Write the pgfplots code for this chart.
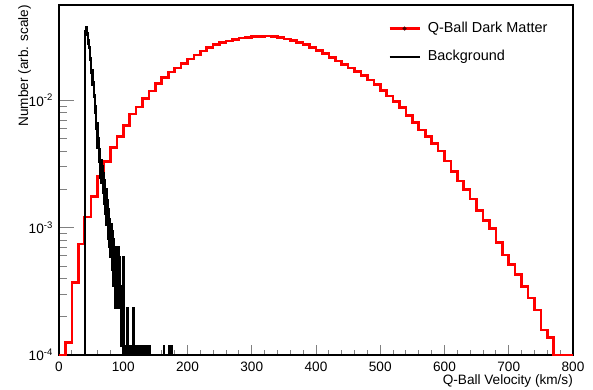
\documentclass[border=0pt]{standalone}
\usepackage{fontspec}
\setmainfont{Liberation Sans}
\usepackage{pgfplots}
\pgfplotsset{compat=1.18}
\begin{document}
\begin{tikzpicture}
\useasboundingbox (-59bp,-35bp) rectangle (534bp,355bp);
\begin{axis}[
  scale only axis,
  width=514bp, height=350bp,
  at={(0,0)}, anchor=south west,
  xmin=0, xmax=800,
  ymode=log, ymin=1e-4, ymax=0.056,
  axis line style={line width=1.1bp},
  tick align=inside,
  xtick pos=bottom, ytick pos=left,
  xtick={0,100,200,300,400,500,600,700,800},
  minor x tick num=4,
  ytick={1e-4,1e-3,1e-2},
  yticklabels={10\textsuperscript{-4},10\textsuperscript{-3},10\textsuperscript{-2}},
  xtick style={line width=0.9bp, /pgfplots/major tick length=10.5bp, /pgfplots/minor tick length=5.25bp},
  ytick style={line width=0.9bp, /pgfplots/major tick length=15.4bp, /pgfplots/minor tick length=7.7bp},
  /pgf/number format/assume math mode=true,
  tick label style={font=\fontsize{13.65}{16}\selectfont},
  xticklabel style={anchor=base, inner sep=0pt, yshift=-16bp},
  yticklabel style={anchor=east, inner sep=0pt, xshift=-6bp},
  every axis x label/.style={at={(axis description cs:1,0)}, anchor=base east, yshift=-29bp, inner sep=0pt, font=\fontsize{13.65}{16}\selectfont},
  every axis y label/.style={at={(axis description cs:-0.0603,1)}, rotate=90, anchor=base east, inner sep=0pt, font=\fontsize{13.65}{16}\selectfont},
  xlabel={Q-Ball Velocity (km/s)},
  ylabel={Number (arb. scale)},
  legend style={draw=none, fill=none, at={(axis description cs:0.6401,0.9527)}, anchor=north west,
    font=\fontsize{14.5}{17}\selectfont, row sep=14.9bp, inner sep=0pt,
    nodes={inner sep=0pt, anchor=west, text height=10.5bp, text depth=3bp}},
  legend cell align=left,
  legend image code/.code={\draw[#1] (0bp,0bp) -- (30bp,0bp); \path (37bp,0bp);},
]
\addplot[const plot mark left, color=red, line width=2.6bp, line join=miter,
  legend image code/.code={\draw[red, line width=2.6bp] (0bp,0bp) -- (30bp,0bp); \fill[black!70!red] (15bp,0bp) circle (0.4bp); \path (37bp,0bp);}] coordinates {
(0,1e-4) (10,1.247e-4) (20,3.693e-4) (30,7.43e-4) (40,1.212e-3) (50,1.755e-3) (60,2.511e-3) (70,3.305e-3) (80,4.243e-3) (90,5.196e-3)
(100,6.339e-3) (110,7.808e-3) (120,8.858e-3) (130,1.033e-2) (140,1.183e-2) (150,1.355e-2) (160,1.505e-2) (170,1.668e-2) (180,1.794e-2) (190,1.953e-2)
(200,2.111e-2) (210,2.269e-2) (220,2.439e-2) (230,2.598e-2) (240,2.733e-2) (250,2.834e-2) (260,2.923e-2) (270,3.014e-2) (280,3.086e-2) (290,3.125e-2)
(300,3.159e-2) (310,3.182e-2) (320,3.187e-2) (330,3.153e-2) (340,3.097e-2) (350,3.030e-2) (360,2.949e-2) (370,2.844e-2) (380,2.733e-2) (390,2.598e-2)
(400,2.461e-2) (410,2.319e-2) (420,2.177e-2) (430,2.036e-2) (440,1.910e-2) (450,1.794e-2) (460,1.677e-2) (470,1.566e-2) (480,1.444e-2) (490,1.331e-2)
(500,1.194e-2) (510,1.081e-2) (520,9.75e-3) (530,8.78e-3) (540,7.60e-3) (550,6.69e-3) (560,5.84e-3) (570,5.18e-3) (580,4.59e-3) (590,4.00e-3)
(600,3.335e-3) (610,2.748e-3) (620,2.323e-3) (630,1.992e-3) (640,1.677e-3) (650,1.367e-3) (660,1.133e-3) (670,9.87e-4) (680,7.61e-4) (690,6.09e-4)
(700,5.11e-4) (710,4.27e-4) (720,3.46e-4) (730,2.81e-4) (740,2.25e-4) (750,1.57e-4) (760,1.375e-4) (770,1e-4) (780,1e-4) (790,1e-4) (800,1e-4)
};
\addlegendentry{Q-Ball Dark Matter}
\addplot[const plot mark left, color=black, line width=2.2bp, line join=miter] coordinates {
(40,1e-4) (41,3.525e-2) (42,3.737e-2) (43,3.243e-2) (44,3.349e-2) (45,2.797e-2) (46,2.949e-2) (47,2.597e-2) (48,2.068e-2) (49,2.127e-2)
(50,1.633e-2) (51,1.739e-2) (52,1.316e-2) (53,1.398e-2) (54,1.069e-2) (55,1.105e-2) (56,7.99e-3) (57,9.05e-3) (58,5.99e-3) (59,6.58e-3)
(60,4.23e-3) (61,5.05e-3) (62,3.29e-3) (63,4.11e-3) (64,2.47e-3) (65,3.41e-3) (66,2.23e-3) (67,3.06e-3) (68,1.88e-3) (69,2.70e-3)
(70,1.53e-3) (71,2.35e-3) (72,1.29e-3) (73,2.00e-3) (74,1.06e-3) (75,1.65e-3) (76,8.2e-4) (77,1.41e-3) (78,7.05e-4) (79,1.175e-3)
(80,5.9e-4) (81,1.06e-3) (82,4.7e-4) (83,9.4e-4) (84,3.5e-4) (85,8.2e-4) (86,3.5e-4) (87,7.05e-4) (88,2.35e-4) (89,5.9e-4)
(90,2.35e-4) (91,4.7e-4) (92,7.05e-4) (93,2.35e-4) (94,5.9e-4) (95,2.35e-4) (96,3.5e-4) (97,1.175e-4) (98,3.5e-4) (99,1e-4)
(100,5.9e-4) (101,1.175e-4) (102,1e-4) (103,1.175e-4) (104,1.175e-4) (105,1e-4) (106,2.35e-4) (107,1.175e-4) (108,1e-4) (109,1.175e-4)
(110,1.175e-4) (111,1e-4) (112,1.175e-4) (113,1e-4) (114,1.175e-4) (115,1e-4) (116,2.35e-4) (117,1e-4) (118,1.175e-4) (119,1.175e-4)
(120,1e-4) (121,1.175e-4) (122,1e-4) (123,1.175e-4) (124,1.175e-4) (125,1e-4) (126,1.175e-4) (127,1e-4) (128,1.175e-4) (129,1e-4)
(130,1.175e-4) (131,1e-4) (132,1e-4) (133,1.175e-4) (134,1e-4) (135,1.175e-4) (136,1e-4) (138,1.175e-4) (139,1e-4) (141,1.175e-4)
(142,1e-4) (163,1.175e-4) (164,1e-4) (171,1.175e-4) (172,1e-4) (175,1.175e-4) (176,1e-4) (180,1e-4)
};
\addlegendentry{Background}
\end{axis}
\end{tikzpicture}
\end{document}
